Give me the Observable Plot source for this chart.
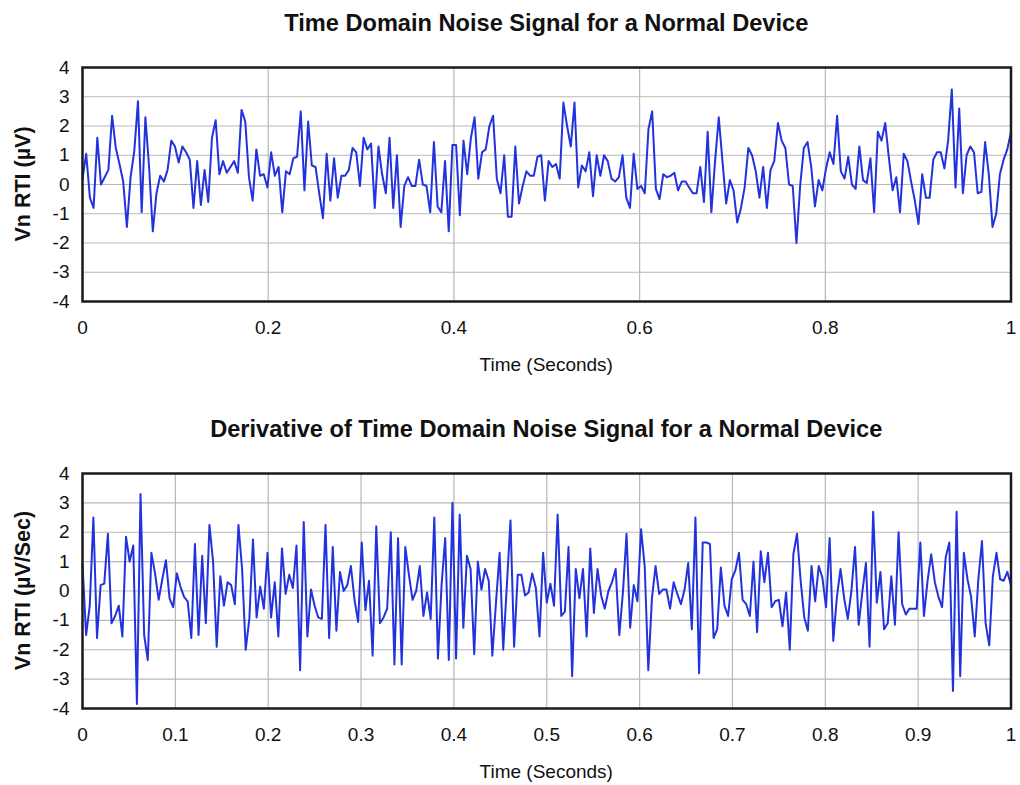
<!DOCTYPE html>
<html>
<head>
<meta charset="utf-8">
<script src="https://cdn.jsdelivr.net/npm/d3@7"></script>
<script src="https://cdn.jsdelivr.net/npm/@observablehq/plot@0.6"></script>
<style>
  body { margin: 0; background: #fff; }
  #page { width: 1020px; height: 785px; }
  #page svg { display: block; }
</style>
</head>
<body>
<div id="page"></div>
<script>
// Noise voltage referred to input, sampled uniformly over one second (µV)
const timeSignal = [
  0.2, 1.05, -0.45, -0.8, 1.6, 0.0, 0.25, 0.5, 2.35, 1.25,
  0.7, 0.1, -1.45, 0.25, 1.15, 2.85, -0.95, 2.3, 0.6, -1.6,
  -0.3, 0.3, 0.1, 0.5, 1.5, 1.3, 0.75, 1.3, 1.1, 0.85,
  -0.8, 0.8, -0.7, 0.5, -0.6, 1.6, 2.2, 0.35, 0.8, 0.4,
  0.6, 0.8, 0.4, 2.55, 2.15, 0.25, -0.55, 1.2, 0.3, 0.35,
  -0.1,
  1.1, 0.3, 0.6, -0.95, 0.45, 0.35, 0.9, 0.95, 2.5, -0.2,
  2.15, 0.65, 0.6, -0.3, -1.15, 1.05, -0.55, 0.9, -0.45, 0.3,
  0.3, 0.5, 1.25, 1.1, -0.05, 1.6, 1.2, 1.4, -0.8, 1.3,
  0.35, -0.3, 1.6, -0.8, 1.0, -1.45, -0.05, 0.25, -0.05, -0.05,
  0.85, 0.0, -0.05, -0.95, 1.45, -0.75, -0.95, 0.8, -1.6, 1.35,
  1.35,
  -1.05, 1.5, 0.35, 1.6, 2.3, 0.2, 1.1, 1.2, 2.0, 2.35,
  0.2, -0.3, 1.0, -1.1, -1.1, 1.3, -0.65, -0.05, 0.45, 0.3,
  0.3, 0.95, 1.0, -0.55, 0.8, 0.6, 0.7, 0.2, 2.8, 2.0,
  1.3, 2.8, -0.1, 0.65, 0.45, 1.1, -0.4, 1.0, 0.3, 1.0,
  0.8, 0.2, 0.1, 0.25, 1.0, -0.45, -0.8, 1.05, -0.15, -0.05,
  -0.3, 1.9, 2.5, -0.15, -0.5, 0.35, 0.25, 0.3, 0.4, -0.2,
  0.1, 0.1, -0.1, -0.3, -0.3, 0.6, -0.6, 1.8, -0.95, 0.8,
  2.3, 0.8, -0.65, 0.15, -0.2, -1.3, -0.8, -0.1, 1.25, 1.0,
  0.45, -0.45, 0.6, -0.8, 0.5, 0.8, 2.1, 1.5, 1.25, 0.0,
  -0.05, -2.0, -0.05, 1.25, 1.45, 0.6, -0.75, 0.15, -0.2, 0.55,
  1.1, 0.7,
  2.35, 0.45, 0.2, 0.95, 0.0, -0.15, 1.3, 0.15, 0.05, 0.9,
  -0.95, 1.8, 1.5, 2.1, 0.9, -0.2, 0.25, -0.95, 1.05, 0.8,
  0.1, -0.55, -1.35, 0.35, -0.45, -0.45, 0.85, 1.1, 1.1, 0.55,
  1.5, 3.25, -0.1, 2.6, -0.3, 1.0, 1.3, 1.1, -0.3, -0.25,
  1.45, 0.35, -1.45, -1.0, 0.35, 0.85, 1.2, 1.8
];

// Its time derivative (µV/Sec, scaled)
const derivativeSignal = [
  0.9, -1.5, -0.5, 2.5, -1.6, 0.2, 0.25, 1.95, -1.1, -0.85,
  -0.5, -1.55, 1.85, 1.0, 1.55, -3.85, 3.3, -1.5, -2.35, 1.3,
  0.6, -0.3, 0.4, 1.05, -0.25, -0.55, 0.6, 0.15, -0.2, -0.35,
  -1.6, 1.6, -1.5, 1.2, -1.1, 2.25, 1.0, -1.9, 0.5, -0.5,
  0.3, 0.2, -0.45, 2.25, 0.75, -2.0, -0.95, 1.75, -0.9, 0.15,
  -0.6, 1.3,
  -0.9, 0.3, -1.55, 1.45, -0.1, 0.55, 0.1, 1.55, -2.7, 2.35,
  -1.55, 0.05, -0.5, -0.9, -0.95, 2.25, -1.6, 1.5, -1.35, 0.65,
  0.0, 0.2, 0.85, -0.3, -1.05, 1.65, -0.65, 0.35, -2.2, 2.2,
  -1.1, -0.9, -0.6, 2.0, -2.5, 1.8, -2.5, 1.5, 0.55, -0.3,
  0.0, 0.85, -0.85, -0.05, -0.95, 2.5, -2.3, 0.2, 1.8, -2.35,
  3.0, -2.3,
  2.6, -1.25, 1.2, 0.75, -2.15, 1.0, 0.05, 0.75, 0.35, -2.2,
  -0.4, 1.3, -2.0, 0.2, 2.4, -1.9, 0.55, 0.55, -0.15, -0.05,
  0.6, 0.1, -1.55, 1.3, -0.4, 0.25, -0.5, 2.6, -0.85, -0.7,
  1.5, -2.9, 0.75, -0.25, 0.75, -1.55, 1.45, -0.75, 0.75, -0.15,
  -0.6, 0.0, 0.3, 0.75, -1.5, -0.05, 1.95, -1.25, 0.2, -0.35,
  2.1, 0.85, -2.7, -0.25, 0.85, -0.1, 0.05, 0.05, -0.6, 0.3,
  -0.1, -0.45, 0.05, 0.95, -1.3, 2.5, -2.8, 1.65, 1.65, 1.6,
  -1.6, -1.3, 0.8, -0.5, -0.85, 0.4, 0.7, 1.3, -0.3, -0.45,
  -0.85, 1.0, -1.4, 1.35, 0.3, 1.3, -0.55, -0.35, -0.3, -1.2,
  -0.05, -2.0, 1.25, 1.95, 0.35, -0.9, -1.35, 0.85, -0.35, 0.85,
  0.45, -0.55, 1.8,
  -1.7, -0.2, 0.75, -0.25, -0.95, 0.0, 1.5, -1.15, -0.05, 0.95,
  -1.9, 2.7, -0.4, 0.65, -1.3, -1.1, 0.5, -1.15, 2.0, -0.45,
  -0.8, -0.6, -0.6, -0.6, 1.65, -0.85, 0.35, 1.25, 0.3, -0.2,
  -0.55, 1.15, 1.65, -3.4, 2.7, -2.9, 1.3, 0.4, -0.2, -1.55,
  0.4, 1.7, -1.1, -1.85, 0.5, 1.3, 0.4, 0.35, 0.65, 0.2
];

const xTicksTop = [0, 0.2, 0.4, 0.6, 0.8, 1];
const xTicksBottom = [0, 0.1, 0.2, 0.3, 0.4, 0.5, 0.6, 0.7, 0.8, 0.9, 1];
const yTicks = [-4, -3, -2, -1, 0, 1, 2, 3, 4];

const titleTop = "Time Domain Noise Signal for a Normal Device";
const titleBottom = "Derivative of Time Domain Noise Signal for a Normal Device";
const yLabelTop = "Vn RTI (\u00B5V)";
const yLabelBottom = "Vn RTI (\u00B5V/Sec)";
const xLabel = "Time (Seconds)";

const FONT = "'Liberation Sans', Arial, Helvetica, sans-serif";

// Samples are evenly spaced across the one-second record
function samples(values) {
  const n = values.length;
  return values.map((v, i) => ({t: i / (n - 1), v}));
}

function panel({values, xTicks, height, marginTop, marginBottom, title, titleY, yLabel, xLabelY}) {
  const marginLeft = 82, marginRight = 9.5;
  const svg = Plot.plot({
    width: 1020,
    height,
    marginLeft,
    marginRight,
    marginTop,
    marginBottom,
    style: {fontFamily: FONT, fontSize: "19px", color: "#111", background: "#fff", overflow: "visible"},
    x: {domain: [0, 1]},
    y: {domain: [-4, 4]},
    marks: [
      Plot.gridX({ticks: xTicks, stroke: "#b8b8b8", strokeOpacity: 1, strokeWidth: 1.2}),
      Plot.gridY({ticks: yTicks, stroke: "#b8b8b8", strokeOpacity: 1, strokeWidth: 1.2}),
      Plot.line(samples(values), {x: "t", y: "v", stroke: "#2233dd", strokeWidth: 2, strokeLinejoin: "round"}),
      Plot.frame({stroke: "#1a1a1a", strokeWidth: 2.5}),
      Plot.axisX({ticks: xTicks, tickSize: 0, tickPadding: 19, tickFormat: d => `${d}`, label: null}),
      Plot.axisY({ticks: yTicks, tickSize: 0, tickPadding: 13, tickFormat: d => `${d}`, label: null})
    ]
  });
  const cx = marginLeft + (1020 - marginLeft - marginRight) / 2;
  const cy = marginTop + (height - marginTop - marginBottom) / 2;
  const s = d3.select(svg);
  s.append("text")
    .attr("x", cx).attr("y", titleY)
    .attr("text-anchor", "middle")
    .attr("font-weight", "bold").attr("font-size", 23.6)
    .attr("fill", "#111")
    .text(title);
  s.append("text")
    .attr("transform", `translate(30,${cy}) rotate(-90)`)
    .attr("text-anchor", "middle")
    .attr("font-weight", "bold").attr("font-size", 21.5)
    .attr("fill", "#111")
    .text(yLabel);
  s.append("text")
    .attr("x", cx).attr("y", xLabelY)
    .attr("text-anchor", "middle")
    .attr("font-size", 19)
    .attr("fill", "#111")
    .text(xLabel);
  return svg;
}

const page = document.getElementById("page");
page.append(panel({
  values: timeSignal, xTicks: xTicksTop,
  height: 392, marginTop: 67, marginBottom: 91,
  title: titleTop, titleY: 31, yLabel: yLabelTop, xLabelY: 371
}));
page.append(panel({
  values: derivativeSignal, xTicks: xTicksBottom,
  height: 393, marginTop: 81, marginBottom: 77,
  title: titleBottom, titleY: 45, yLabel: yLabelBottom, xLabelY: 386
}));
</script>
</body>
</html>
